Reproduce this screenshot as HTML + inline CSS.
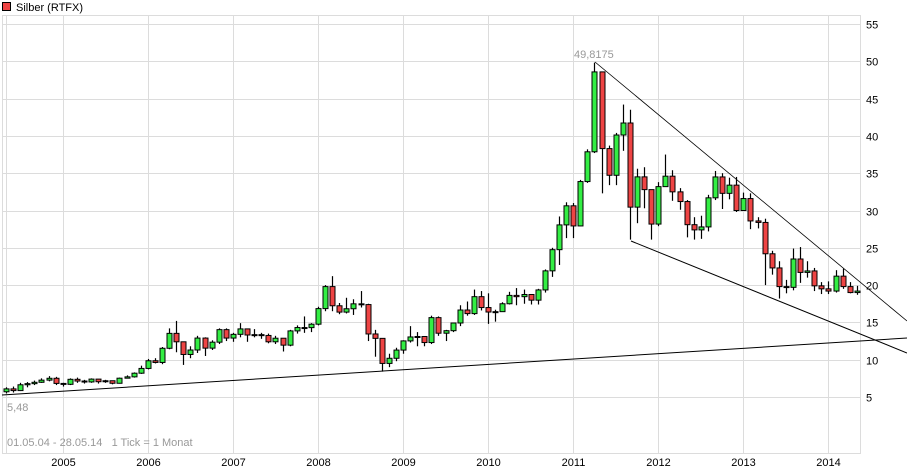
<!DOCTYPE html>
<html><head><meta charset="utf-8">
<style>
html,body{margin:0;padding:0;background:#fff;}
svg{display:block;font-family:"Liberation Sans",sans-serif;}
</style></head>
<body>
<svg id="chart" width="907" height="475" viewBox="0 0 907 475">
  <g>
    <rect x="2.5" y="2.5" width="8" height="8" fill="#ee4444" stroke="#000" stroke-width="1"/>
    <text x="16" y="11" font-size="11" fill="#000">Silber (RTFX)</text>
  </g>
  <g id="grid"></g>
  <rect x="2.5" y="15.5" width="858" height="438" fill="none" stroke="#dcdcdc"/>
  <g id="candles"></g>
  <g id="trend">
    <line x1="2" y1="395" x2="907" y2="338" stroke="#000" stroke-width="1"/>
    <line x1="595" y1="62" x2="907" y2="321" stroke="#000" stroke-width="0.8"/>
    <line x1="631" y1="241" x2="907" y2="353" stroke="#000" stroke-width="1"/>
  </g>
  <g id="axes"></g>
  <text x="7" y="411" font-size="11" fill="#999">5,48</text>
  <text x="574" y="58" font-size="11" fill="#999">49,8175</text>
  <text x="7" y="446" font-size="11" fill="#999" xml:space="preserve" style="white-space:pre">01.05.04 - 28.05.14   1 Tick = 1 Monat</text>
</svg>
<script>
const yTicks = [5,10,15,20,25,30,35,40,45,50,55];
const yearLabels = ["2005","2006","2007","2008","2009","2010","2011","2012","2013","2014"];
const yearStartIdx = [8,20,32,44,56,68,80,92,104,116];
const opens = [5.70,6.09,5.86,6.64,6.79,6.97,7.26,7.51,
6.82,6.70,7.37,7.14,7.02,7.40,7.05,7.18,6.84,7.52,7.70,8.19,
8.83,9.86,9.63,11.53,13.53,12.40,10.70,11.30,12.90,11.55,12.35,14.03,
12.90,13.40,14.13,13.31,13.36,13.25,12.40,12.88,11.95,13.86,14.31,14.30,
14.76,16.85,19.80,17.23,16.38,16.83,17.49,17.39,13.45,12.86,9.50,10.19,
11.29,12.52,13.05,13.11,12.30,15.64,13.55,13.89,14.92,16.66,16.18,18.45,
16.99,16.39,16.44,17.50,18.62,18.45,18.74,17.98,19.35,21.91,24.75,28.07,
30.63,27.93,33.88,37.87,48.58,38.30,34.72,40.12,41.73,30.45,34.51,32.80,
28.18,33.2,34.6,32.5,31.2,28.1,27.4,27.8,31.7,34.5,32.3,33.4,
30.0,31.6,28.6,28.4,24.2,22.3,19.8,19.7,23.5,21.7,21.9,19.9,
19.5,19.2,21.2,19.8,19.0];
const closes = [6.09,5.86,6.64,6.79,6.97,7.26,7.51,6.82,
6.70,7.37,7.14,7.02,7.40,7.05,7.18,6.84,7.52,7.70,8.19,8.83,
9.86,9.63,11.53,13.53,12.40,10.70,11.30,12.90,11.55,12.35,14.03,12.90,
13.40,14.13,13.31,13.36,13.25,12.40,12.88,11.95,13.86,14.31,14.30,14.76,
16.85,19.80,17.23,16.38,16.83,17.49,17.39,13.45,12.86,9.50,10.19,11.29,
12.52,13.05,13.11,12.30,15.64,13.55,13.89,14.92,16.66,16.18,18.45,16.99,
16.39,16.44,17.50,18.62,18.45,18.74,17.98,19.35,21.91,24.75,28.07,30.63,
27.93,33.88,37.87,48.58,38.30,34.72,40.12,41.73,30.45,34.51,32.80,28.18,
33.2,34.6,32.5,31.2,28.1,27.4,27.8,31.7,34.5,32.3,33.4,30.0,
31.6,28.6,28.4,24.2,22.3,19.8,19.7,23.5,21.7,21.9,19.9,19.5,
19.2,21.2,19.8,19.0,19.2];
const highs = [6.3,6.4,6.9,7.0,7.2,7.5,7.8,7.7,
6.9,7.5,7.6,7.3,7.5,7.4,7.3,7.2,7.6,7.9,8.3,9.2,
10.1,10.2,11.7,14.2,15.2,11.6,11.8,13.2,13.0,12.6,14.2,14.2,
13.6,14.9,13.9,14.1,13.6,13.5,13.2,12.9,14.0,14.6,15.8,14.9,
17.1,20.0,21.2,17.6,18.3,18.1,19.2,17.5,14.0,12.9,10.8,11.6,
12.6,14.5,13.7,12.8,15.9,15.8,14.0,14.9,17.3,17.8,19.4,19.2,
18.9,16.7,17.7,19.1,19.6,19.4,18.6,19.5,22.1,25.0,29.2,31.1,
31.0,34.1,38.2,49.8175,48.6,38.7,40.4,44.2,43.5,35.6,35.8,32.8,
33.8,37.5,35.4,33.0,31.4,29.1,29.3,32.1,35.3,35.0,34.4,34.5,
32.4,32.3,29.1,28.9,24.6,23.2,20.7,24.9,25.1,23.2,22.3,20.4,
20.5,22.0,22.2,20.4,19.9];
const lows = [5.48,5.6,5.8,6.3,6.6,6.9,7.1,6.6,
6.4,6.6,6.9,6.8,6.9,6.8,6.9,6.7,6.8,7.5,7.6,8.1,
8.7,9.5,9.4,11.4,11.0,9.3,10.2,10.9,10.5,11.3,12.1,12.5,
12.4,13.0,12.4,13.0,12.8,12.2,12.1,11.1,11.8,13.5,13.6,13.7,
14.6,16.5,16.5,16.1,16.2,16.0,17.0,12.5,10.4,8.4,9.0,9.8,
10.8,12.3,11.8,11.8,12.1,13.2,12.5,13.7,14.5,15.9,16.0,16.6,
14.8,15.1,16.4,17.4,17.3,17.5,17.4,17.4,19.0,21.1,22.7,26.3,
26.3,27.9,33.7,37.7,32.3,33.4,33.4,38.0,26.1,28.3,30.3,26.1,
27.9,33.2,31.3,30.1,26.4,26.1,26.2,27.2,31.4,30.2,31.5,29.8,
30.0,27.5,27.6,20.0,21.4,18.2,18.9,19.3,20.3,21.0,19.2,18.8,
18.8,19.0,19.5,18.9,18.7];

const NS = "http://www.w3.org/2000/svg";
const X0 = 6, DX = 7.09, Y0 = 434.3, DY = 7.46;
function xScale(i){ return X0 + DX*i; }
function yScale(v){ return Y0 - DY*v; }
function mk(tag, attrs, parent){
  const el = document.createElementNS(NS, tag);
  for (const k in attrs) el.setAttribute(k, attrs[k]);
  parent.appendChild(el);
  return el;
}
const grid = document.getElementById('grid');
const axes = document.getElementById('axes');
const candles = document.getElementById('candles');

yTicks.forEach(function(t){
  const y = Math.round(yScale(t)) + 0.5;
  const gl = mk('line', {x1:2, x2:860, y1:y, y2:y, stroke:'#dcdcdc', 'stroke-width':1}, grid);
  
  
  const tx = mk('text', {x:866, y:y+4, 'font-size':11, fill:'#000'}, axes);
  tx.textContent = String(t);
  
  
});
const g0 = mk('line', {x1:6.5, x2:6.5, y1:15, y2:453, stroke:'#dcdcdc', 'stroke-width':1}, grid);


yearLabels.forEach(function(lab, k){
  const x = Math.round(xScale(yearStartIdx[k])) + 0.5;
  const gl = mk('line', {x1:x, x2:x, y1:15, y2:453, stroke:'#dcdcdc', 'stroke-width':1}, grid);
  
  
  const tx = mk('text', {x:x, y:466, 'font-size':11, fill:'#000', 'text-anchor':'middle'}, axes);
  tx.textContent = lab;
  
  
});

closes.forEach(function(c, i){
  const o = opens[i];
  const x = Math.round(xScale(i)) + 0.5;
  const up = c >= o;
  const g = mk('g', {}, candles);
  
  
  const w = mk('line', {x1:x, x2:x, y1:yScale(highs[i]), y2:yScale(lows[i]), stroke:'#000', 'stroke-width':1.2}, g);
  
  
  const top = yScale(Math.max(o,c)), bot = yScale(Math.min(o,c));
  const b = mk('rect', {x:x-2.5, y:top, width:5, height:Math.max(1, bot-top), fill: up ? '#33ee44' : '#ee4444', stroke:'#000', 'stroke-width':1}, g);
  
  
});
</script>
</body></html>
